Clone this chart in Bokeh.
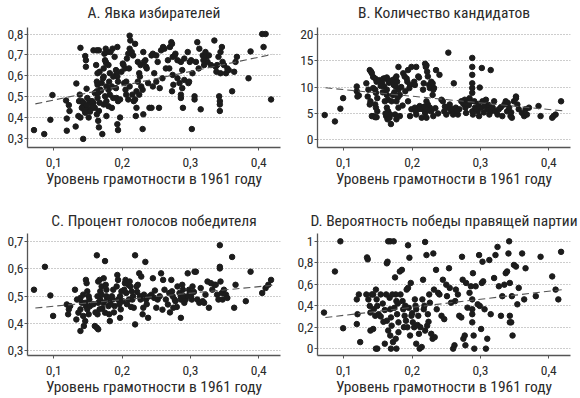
from bokeh.plotting import figure
from bokeh.layouts import row, column
from bokeh.models import Range1d
from bokeh.embed import file_html
from bokeh.resources import INLINE

FONT = "'Roboto Condensed', 'Liberation Sans Narrow', Roboto, sans-serif"

# ---------------- data ----------------
titles = ["A. Явка избирателей", "B. Количество кандидатов",
          "C. Процент голосов победителя", "D. Вероятность победы правящей партии"]
x_axis_title = "Уровень грамотности в 1961 году"
x_ticks = [0.1, 0.2, 0.3, 0.4]
x_tick_labels = ["0,1", "0,2", "0,3", "0,4"]

a_ticks = [0.3, 0.4, 0.5, 0.6, 0.7, 0.8]
a_tick_labels = ["0,3", "0,4", "0,5", "0,6", "0,7", "0,8"]
b_ticks = [0, 5, 10, 15, 20]
b_tick_labels = ["0", "5", "10", "15", "20"]
c_ticks = [0.3, 0.4, 0.5, 0.6, 0.7]
c_tick_labels = ["0,3", "0,4", "0,5", "0,6", "0,7"]
d_ticks = [0, 0.2, 0.4, 0.6, 0.8, 1.0]
d_tick_labels = ["0", "0,2", "0,4", "0,6", "0,8", "1"]

fit_x = [0.073, 0.42]
a_fit = [0.467, 0.703]
b_fit = [9.85, 5.5]
c_fit = [0.456, 0.539]
d_fit = [0.29, 0.55]

a_pts = [
    (0.071, 0.342), (0.086, 0.323), (0.095, 0.391), (0.098, 0.509), (0.119, 0.339), (0.119, 0.397),
    (0.118, 0.483), (0.122, 0.461), (0.123, 0.433), (0.132, 0.359), (0.133, 0.564), (0.139, 0.734),
    (0.138, 0.511), (0.137, 0.480), (0.136, 0.409), (0.139, 0.402), (0.141, 0.480), (0.143, 0.300),
    (0.144, 0.464), (0.146, 0.695), (0.147, 0.675), (0.147, 0.644), (0.148, 0.539), (0.149, 0.495),
    (0.147, 0.448), (0.149, 0.433), (0.146, 0.425), (0.151, 0.402), (0.143, 0.472), (0.141, 0.448),
    (0.152, 0.480), (0.153, 0.472), (0.158, 0.722), (0.163, 0.722), (0.166, 0.722), (0.162, 0.652),
    (0.164, 0.613), (0.167, 0.620), (0.163, 0.573), (0.164, 0.558), (0.163, 0.527), (0.160, 0.519),
    (0.165, 0.519), (0.164, 0.495), (0.167, 0.472), (0.166, 0.433), (0.163, 0.417), (0.165, 0.386),
    (0.166, 0.355), (0.158, 0.472), (0.156, 0.480), (0.160, 0.448), (0.168, 0.534), (0.169, 0.530),
    (0.171, 0.323), (0.170, 0.566), (0.172, 0.589), (0.173, 0.597), (0.175, 0.675), (0.176, 0.667),
    (0.177, 0.659), (0.178, 0.714), (0.176, 0.730), (0.174, 0.706), (0.173, 0.636), (0.180, 0.652),
    (0.182, 0.613), (0.181, 0.573), (0.177, 0.550), (0.180, 0.534), (0.182, 0.511), (0.175, 0.503),
    (0.177, 0.480), (0.173, 0.464), (0.180, 0.456), (0.185, 0.448), (0.177, 0.409), (0.187, 0.495),
    (0.185, 0.550), (0.183, 0.714), (0.186, 0.730), (0.189, 0.691), (0.187, 0.597), (0.193, 0.738),
    (0.191, 0.628), (0.192, 0.613), (0.193, 0.597), (0.194, 0.573), (0.191, 0.542), (0.192, 0.495),
    (0.194, 0.480), (0.193, 0.370), (0.194, 0.342), (0.197, 0.402), (0.199, 0.620), (0.201, 0.659),
    (0.202, 0.652), (0.204, 0.636), (0.203, 0.566), (0.205, 0.534), (0.206, 0.573), (0.207, 0.683),
    (0.209, 0.706), (0.211, 0.792), (0.212, 0.769), (0.211, 0.730), (0.210, 0.636), (0.211, 0.550),
    (0.209, 0.488), (0.206, 0.511), (0.197, 0.488), (0.214, 0.714), (0.216, 0.698), (0.215, 0.511),
    (0.217, 0.480), (0.219, 0.488), (0.219, 0.753), (0.220, 0.409), (0.221, 0.448), (0.223, 0.573),
    (0.225, 0.511), (0.226, 0.597), (0.223, 0.667), (0.227, 0.652), (0.228, 0.550), (0.230, 0.534),
    (0.231, 0.714), (0.232, 0.667), (0.231, 0.417), (0.230, 0.347), (0.225, 0.613), (0.221, 0.527),
    (0.234, 0.675), (0.235, 0.644), (0.236, 0.636), (0.238, 0.566), (0.240, 0.448), (0.243, 0.448),
    (0.243, 0.698), (0.245, 0.706), (0.247, 0.613), (0.250, 0.698), (0.252, 0.667), (0.254, 0.448),
    (0.255, 0.542), (0.257, 0.722), (0.259, 0.589), (0.260, 0.738), (0.250, 0.573), (0.245, 0.550),
    (0.262, 0.730), (0.264, 0.636), (0.267, 0.675), (0.269, 0.636), (0.270, 0.738), (0.272, 0.761),
    (0.273, 0.753), (0.274, 0.691), (0.274, 0.605), (0.275, 0.558), (0.273, 0.527), (0.277, 0.698),
    (0.278, 0.706), (0.281, 0.675), (0.281, 0.589), (0.284, 0.566), (0.286, 0.511), (0.286, 0.495),
    (0.288, 0.542), (0.289, 0.448), (0.286, 0.667), (0.291, 0.683), (0.288, 0.628), (0.291, 0.581),
    (0.296, 0.714), (0.297, 0.566), (0.298, 0.573), (0.299, 0.667), (0.301, 0.675), (0.302, 0.347),
    (0.303, 0.613), (0.306, 0.503), (0.306, 0.488), (0.308, 0.667), (0.310, 0.761), (0.312, 0.636),
    (0.313, 0.730), (0.315, 0.441), (0.318, 0.698), (0.320, 0.652), (0.322, 0.714), (0.323, 0.691),
    (0.325, 0.667), (0.327, 0.698), (0.330, 0.652), (0.319, 0.675), (0.335, 0.769), (0.337, 0.644),
    (0.338, 0.620), (0.339, 0.652), (0.341, 0.691), (0.342, 0.503), (0.343, 0.480), (0.343, 0.464),
    (0.343, 0.433), (0.344, 0.613), (0.346, 0.738), (0.347, 0.667), (0.349, 0.652), (0.352, 0.613),
    (0.354, 0.636), (0.356, 0.628), (0.361, 0.527), (0.364, 0.620), (0.366, 0.667), (0.368, 0.691),
    (0.344, 0.714), (0.385, 0.589), (0.388, 0.717), (0.405, 0.800), (0.410, 0.800), (0.407, 0.738),
    (0.418, 0.488), (0.150, 0.440), (0.153, 0.430), (0.145, 0.435), (0.155, 0.445), (0.148, 0.460),
    (0.157, 0.455),
]

b_pts = [
    (0.072, 4.7), (0.087, 3.5), (0.095, 5.9), (0.099, 7.9), (0.119, 10.1), (0.119, 9.2), (0.122, 8.4),
    (0.120, 8.2), (0.133, 10.7), (0.136, 9.5), (0.135, 8.2), (0.139, 7.3), (0.138, 6.7), (0.138, 13.2),
    (0.140, 12.9), (0.141, 12.6), (0.143, 11.9), (0.146, 11.6), (0.148, 11.0), (0.141, 4.5), (0.143, 4.5),
    (0.146, 4.3), (0.148, 4.3), (0.143, 9.8), (0.146, 9.5), (0.147, 8.9), (0.149, 7.9), (0.146, 6.7),
    (0.147, 6.1), (0.149, 5.4), (0.152, 11.3), (0.156, 10.7), (0.158, 11.6), (0.159, 10.1), (0.160, 11.6),
    (0.163, 11.8), (0.165, 11.3), (0.163, 9.5), (0.163, 8.5), (0.165, 7.6), (0.160, 7.3), (0.163, 6.1),
    (0.165, 5.4), (0.162, 4.5), (0.164, 3.9), (0.167, 4.2), (0.169, 3.0), (0.168, 4.8), (0.170, 7.3),
    (0.172, 8.5), (0.173, 10.4), (0.175, 11.6), (0.177, 12.0), (0.180, 13.8), (0.178, 11.0), (0.176, 10.1),
    (0.180, 9.5), (0.182, 8.5), (0.177, 7.3), (0.180, 6.1), (0.182, 4.5), (0.175, 4.8), (0.177, 3.9),
    (0.187, 12.6), (0.189, 12.0), (0.192, 11.6), (0.194, 13.2), (0.193, 11.0), (0.197, 10.4), (0.199, 13.8),
    (0.203, 11.0), (0.204, 10.4), (0.206, 13.8), (0.209, 12.0), (0.210, 11.8), (0.194, 7.3), (0.197, 4.5),
    (0.199, 5.8), (0.204, 6.1), (0.206, 4.8), (0.209, 5.8), (0.211, 6.4), (0.214, 4.2), (0.215, 6.1),
    (0.216, 9.5), (0.217, 10.7), (0.219, 14.4), (0.220, 13.8), (0.221, 14.1), (0.222, 12.9), (0.223, 12.0),
    (0.225, 10.4), (0.226, 9.8), (0.228, 11.0), (0.230, 10.7), (0.231, 9.5), (0.232, 9.8), (0.230, 8.5),
    (0.226, 6.1), (0.228, 5.4), (0.231, 4.5), (0.221, 7.3), (0.223, 6.7), (0.216, 5.8), (0.219, 5.1),
    (0.221, 4.2), (0.235, 13.2), (0.240, 12.3), (0.243, 7.6), (0.245, 7.3), (0.247, 5.4), (0.250, 4.8),
    (0.252, 6.1), (0.255, 6.7), (0.257, 5.4), (0.260, 4.8), (0.261, 10.7), (0.262, 5.4), (0.264, 6.1),
    (0.267, 4.8), (0.269, 5.8), (0.272, 7.3), (0.274, 7.3), (0.277, 7.6), (0.278, 6.1), (0.279, 5.1),
    (0.281, 7.3), (0.284, 7.9), (0.286, 7.3), (0.288, 5.4), (0.289, 4.8), (0.291, 7.3), (0.292, 6.1),
    (0.288, 8.9), (0.288, 9.8), (0.288, 10.7), (0.288, 12.3), (0.288, 13.8), (0.288, 15.5), (0.253, 16.5),
    (0.299, 9.9), (0.302, 13.6), (0.315, 13.2), (0.296, 5.4), (0.298, 4.5), (0.301, 6.1), (0.303, 7.3),
    (0.306, 6.4), (0.308, 7.6), (0.310, 5.8), (0.313, 4.8), (0.315, 5.4), (0.318, 6.1), (0.320, 7.3),
    (0.322, 5.4), (0.325, 4.8), (0.327, 5.8), (0.332, 4.5), (0.335, 6.7), (0.337, 7.3), (0.339, 5.4),
    (0.342, 6.1), (0.344, 4.5), (0.346, 4.2), (0.349, 7.3), (0.352, 7.9), (0.354, 6.7), (0.356, 5.8),
    (0.361, 5.1), (0.364, 4.5), (0.366, 5.8), (0.368, 4.8), (0.352, 8.2), (0.371, 6.1), (0.385, 6.4),
    (0.388, 4.5), (0.405, 4.2), (0.407, 4.5), (0.410, 4.8), (0.418, 7.3), (0.205, 5.5), (0.212, 5.9),
    (0.218, 6.3), (0.224, 5.6), (0.234, 6.0), (0.238, 5.0), (0.248, 6.3), (0.258, 5.9), (0.266, 5.5),
    (0.275, 6.8), (0.283, 6.6), (0.294, 5.9), (0.297, 6.8), (0.305, 5.2), (0.312, 6.6), (0.330, 6.2),
    (0.340, 7.0), (0.345, 5.2), (0.154, 10.2), (0.157, 9.0), (0.161, 5.0), (0.166, 10.8), (0.171, 11.3),
    (0.174, 9.0), (0.179, 8.0), (0.184, 10.0), (0.186, 6.5), (0.190, 9.2), (0.196, 9.8),
]

c_pts = [
    (0.071, 0.523), (0.087, 0.607), (0.095, 0.502), (0.099, 0.427), (0.119, 0.469), (0.122, 0.451),
    (0.121, 0.433), (0.124, 0.463), (0.131, 0.523), (0.134, 0.487), (0.133, 0.414), (0.136, 0.439),
    (0.139, 0.451), (0.139, 0.493), (0.141, 0.475), (0.143, 0.505), (0.143, 0.427), (0.146, 0.408),
    (0.139, 0.372), (0.144, 0.390), (0.147, 0.559), (0.148, 0.547), (0.149, 0.517), (0.151, 0.499),
    (0.147, 0.463), (0.149, 0.451), (0.151, 0.433), (0.146, 0.475), (0.153, 0.463), (0.152, 0.487),
    (0.163, 0.649), (0.165, 0.553), (0.167, 0.559), (0.168, 0.517), (0.164, 0.499), (0.165, 0.475),
    (0.167, 0.451), (0.164, 0.433), (0.163, 0.384), (0.165, 0.378), (0.160, 0.390), (0.168, 0.487),
    (0.170, 0.505), (0.170, 0.535), (0.173, 0.565), (0.175, 0.628), (0.176, 0.541), (0.177, 0.523),
    (0.178, 0.487), (0.180, 0.463), (0.181, 0.433), (0.182, 0.408), (0.175, 0.439), (0.177, 0.499),
    (0.173, 0.475), (0.185, 0.499), (0.187, 0.523), (0.186, 0.487), (0.189, 0.463), (0.192, 0.535),
    (0.193, 0.577), (0.194, 0.559), (0.194, 0.487), (0.197, 0.499), (0.198, 0.451), (0.197, 0.420),
    (0.199, 0.517), (0.201, 0.481), (0.203, 0.523), (0.204, 0.547), (0.205, 0.559), (0.206, 0.511),
    (0.209, 0.541), (0.210, 0.487), (0.211, 0.553), (0.212, 0.535), (0.214, 0.517), (0.215, 0.487),
    (0.216, 0.499), (0.217, 0.457), (0.219, 0.649), (0.219, 0.396), (0.221, 0.535), (0.223, 0.541),
    (0.225, 0.583), (0.226, 0.499), (0.227, 0.487), (0.228, 0.571), (0.230, 0.433), (0.231, 0.457),
    (0.232, 0.505), (0.234, 0.625), (0.235, 0.487), (0.238, 0.420), (0.240, 0.499), (0.243, 0.505),
    (0.245, 0.565), (0.247, 0.493), (0.250, 0.457), (0.252, 0.487), (0.255, 0.499), (0.257, 0.583),
    (0.260, 0.559), (0.262, 0.523), (0.264, 0.487), (0.267, 0.469), (0.269, 0.511), (0.272, 0.559),
    (0.273, 0.517), (0.274, 0.499), (0.275, 0.457), (0.277, 0.487), (0.278, 0.481), (0.281, 0.535),
    (0.284, 0.511), (0.286, 0.499), (0.286, 0.487), (0.286, 0.420), (0.288, 0.541), (0.289, 0.523),
    (0.291, 0.475), (0.293, 0.487), (0.296, 0.583), (0.298, 0.523), (0.299, 0.511), (0.301, 0.499),
    (0.302, 0.487), (0.303, 0.535), (0.306, 0.589), (0.308, 0.589), (0.310, 0.487), (0.313, 0.475),
    (0.315, 0.529), (0.318, 0.481), (0.320, 0.475), (0.325, 0.553), (0.327, 0.457), (0.330, 0.547),
    (0.332, 0.523), (0.335, 0.541), (0.337, 0.541), (0.339, 0.505), (0.341, 0.487), (0.343, 0.686),
    (0.343, 0.607), (0.343, 0.601), (0.344, 0.553), (0.346, 0.511), (0.347, 0.487), (0.349, 0.523),
    (0.352, 0.505), (0.354, 0.493), (0.361, 0.643), (0.364, 0.457), (0.366, 0.541), (0.381, 0.481),
    (0.388, 0.589), (0.405, 0.511), (0.410, 0.529), (0.414, 0.541), (0.418, 0.559), (0.158, 0.470),
    (0.161, 0.440), (0.171, 0.455), (0.183, 0.470), (0.188, 0.440), (0.196, 0.470), (0.207, 0.470),
    (0.213, 0.460), (0.222, 0.515), (0.236, 0.470), (0.248, 0.520), (0.259, 0.450), (0.270, 0.440),
    (0.280, 0.460), (0.290, 0.500), (0.297, 0.500), (0.305, 0.515), (0.322, 0.505),
]

d_pts = [
    (0.071, 0.336), (0.087, 0.719), (0.095, 1.0), (0.099, 0.19), (0.119, 0.459), (0.120, 0.321),
    (0.119, 0.229), (0.122, 0.505), (0.124, 0.061), (0.133, 0.505), (0.134, 0.850), (0.135, 0.832),
    (0.136, 0.459), (0.138, 0.398), (0.139, 0.336), (0.139, 0.168), (0.141, 0.505), (0.143, 0.505),
    (0.144, 0.367), (0.146, 0.306), (0.147, 0.550), (0.148, 0.459), (0.149, 0.398), (0.147, 0.0),
    (0.149, 0.0), (0.151, 0.321), (0.143, 0.183), (0.160, 0.046), (0.163, 0.795), (0.164, 0.810),
    (0.165, 1.0), (0.168, 1.0), (0.167, 0.474), (0.168, 0.367), (0.169, 0.291), (0.170, 0.214),
    (0.163, 0.260), (0.165, 0.168), (0.168, 0.122), (0.169, 0.0), (0.172, 0.061), (0.173, 1.0),
    (0.175, 0.664), (0.176, 0.505), (0.177, 0.443), (0.178, 0.321), (0.180, 0.245), (0.180, 0.153),
    (0.176, 0.092), (0.177, 0.0), (0.182, 0.719), (0.185, 0.734), (0.186, 0.443), (0.187, 0.367),
    (0.189, 0.306), (0.191, 0.260), (0.192, 0.550), (0.194, 0.566), (0.193, 0.199), (0.194, 0.963),
    (0.196, 0.847), (0.197, 0.122), (0.198, 0.612), (0.199, 0.306), (0.201, 0.245), (0.203, 0.199),
    (0.204, 0.459), (0.206, 0.367), (0.206, 0.046), (0.209, 0.306), (0.210, 0.138), (0.211, 0.0),
    (0.214, 0.015), (0.215, 0.459), (0.216, 0.642), (0.217, 0.367), (0.219, 0.168), (0.219, 0.994),
    (0.221, 0.872), (0.222, 0.214), (0.223, 0.321), (0.225, 0.505), (0.226, 0.428), (0.228, 0.138),
    (0.230, 0.092), (0.231, 0.887), (0.232, 0.550), (0.233, 0.107), (0.235, 0.734), (0.236, 0.367),
    (0.238, 0.520), (0.240, 0.505), (0.243, 0.306), (0.245, 0.642), (0.247, 0.275), (0.250, 0.596),
    (0.251, 0.489), (0.254, 0.749), (0.255, 0.566), (0.257, 0.428), (0.260, 0.0), (0.262, 0.031),
    (0.263, 0.443), (0.264, 0.550), (0.267, 0.505), (0.269, 0.306), (0.272, 0.291), (0.273, 0.856),
    (0.274, 0.642), (0.275, 0.092), (0.277, 0.122), (0.278, 0.031), (0.279, 0.612), (0.281, 0.382),
    (0.284, 0.520), (0.286, 0.581), (0.288, 0.459), (0.288, 0.367), (0.288, 0.321), (0.288, 0.245),
    (0.289, 0.703), (0.290, 0.122), (0.291, 0.0), (0.293, 0.581), (0.296, 0.413), (0.298, 0.872),
    (0.299, 0.398), (0.301, 0.183), (0.302, 0.612), (0.303, 0.810), (0.304, 0.627), (0.306, 0.367),
    (0.308, 0.0), (0.310, 0.092), (0.313, 0.826), (0.315, 0.321), (0.320, 0.658), (0.322, 0.872),
    (0.325, 0.948), (0.327, 0.581), (0.330, 0.306), (0.332, 0.489), (0.335, 0.596), (0.337, 0.703),
    (0.339, 0.719), (0.341, 0.887), (0.342, 1.0), (0.343, 0.612), (0.343, 0.306), (0.343, 0.245),
    (0.345, 0.245), (0.346, 0.489), (0.347, 0.122), (0.349, 0.780), (0.352, 0.765), (0.354, 0.413),
    (0.356, 0.566), (0.361, 0.887), (0.364, 0.459), (0.366, 0.749), (0.381, 0.489), (0.388, 0.856),
    (0.405, 0.673), (0.410, 0.550), (0.414, 0.459), (0.418, 0.902), (0.154, 0.505), (0.157, 0.420),
    (0.160, 0.360), (0.162, 0.505), (0.171, 0.505), (0.174, 0.380), (0.179, 0.420), (0.183, 0.505),
    (0.188, 0.200), (0.190, 0.400), (0.195, 0.380), (0.200, 0.330), (0.205, 0.400), (0.208, 0.220),
    (0.212, 0.200), (0.218, 0.400), (0.224, 0.250), (0.154, 0.300), (0.158, 0.250),
]

# ---------------- styling ----------------
TEXT = "#2a2a2a"


def panel(title, pts, fit_y, y_lo, y_hi, yticks, ylabels, h, bt, bb, t_align, t_gap):
    p = figure(width=290, height=h, x_range=Range1d(0.0615, 0.4318), y_range=Range1d(y_lo, y_hi),
               output_backend="svg", toolbar_location=None,
               min_border_left=27, min_border_right=10, min_border_top=bt, min_border_bottom=bb)
    p.outline_line_color = None
    p.background_fill_color = "white"
    p.border_fill_color = "white"
    p.title.text = title
    p.title.align = "center"
    p.title.vertical_align = t_align
    p.title.text_font = FONT
    p.title.text_font_size = "15.5px"
    p.title.text_font_style = "normal"
    p.title.text_color = TEXT
    p.title.standoff = t_gap

    p.xgrid.grid_line_color = None
    p.ygrid.grid_line_color = "#9a9a9a"
    p.ygrid.grid_line_dash = "1 2"
    p.ygrid.grid_line_width = 1
    p.ygrid.ticker = yticks

    p.xaxis.ticker = x_ticks
    p.xaxis.major_label_overrides = dict(zip(x_ticks, x_tick_labels))
    p.yaxis.ticker = yticks
    p.yaxis.major_label_overrides = dict(zip(yticks, ylabels))
    p.xaxis.axis_label = x_axis_title
    for ax in (p.xaxis, p.yaxis):
        ax.axis_line_color = "#555555"
        ax.axis_line_width = 1.3
        ax.major_tick_line_color = "#555555"
        ax.major_tick_out = 3
        ax.major_tick_in = 0
        ax.minor_tick_line_color = None
        ax.major_label_text_font = FONT
        ax.major_label_text_font_size = "13.5px"
        ax.major_label_text_color = TEXT
        ax.axis_label_text_font = FONT
        ax.axis_label_text_font_size = "15.5px"
        ax.axis_label_text_font_style = "normal"
        ax.axis_label_text_color = TEXT
    p.xaxis.major_label_standoff = 7
    p.xaxis.axis_label_standoff = 0
    p.yaxis.major_label_standoff = 1

    xs = [q[0] for q in pts]
    ys = [q[1] for q in pts]
    p.scatter(xs, ys, size=5.5, color="#1c1c1c", line_color="#1c1c1c")
    p.line(fit_x, fit_y, line_color="#555555", line_width=1.1, line_dash="7 4")
    return p


pa = panel(titles[0], a_pts, a_fit, 0.259, 0.831, a_ticks, a_tick_labels, 200, 25, 53, "top", 7)
pb = panel(titles[1], b_pts, b_fit, -1.43, 21.25, b_ticks, b_tick_labels, 200, 25, 53, "top", 7)
pc = panel(titles[2], c_pts, c_fit, 0.282, 0.729, c_ticks, c_tick_labels, 198, 33, 41, "bottom", 8)
pd = panel(titles[3], d_pts, d_fit, -0.064, 1.073, d_ticks, d_tick_labels, 198, 33, 41, "bottom", 8)

layout = column(row(pa, pb), row(pc, pd))
open("out.html", "w").write(file_html(layout, INLINE))
